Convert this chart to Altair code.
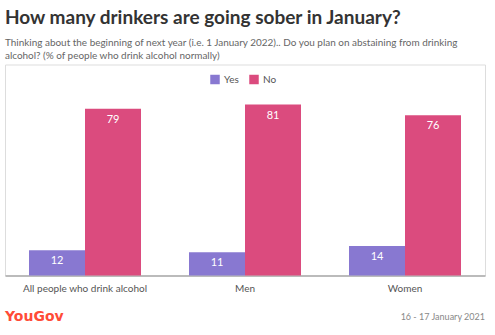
import altair as alt
import pandas as pd

categories = ["All people who drink alcohol", "Men", "Women"]
yes_values = [12, 11, 14]
no_values = [79, 81, 76]
series = ["Yes", "No"]
colors = ["#8878d1", "#db4b7e"]

rows = []
for c, y, n in zip(categories, yes_values, no_values):
    rows.append({"group": c, "answer": "Yes", "value": y})
    rows.append({"group": c, "answer": "No", "value": n})
df = pd.DataFrame(rows)

FONT = "Lato"

x = alt.X("group:N", sort=categories, title=None,
          scale=alt.Scale(paddingInner=0.3, paddingOuter=0.15),
          axis=alt.Axis(labelAngle=0, ticks=False, domainColor="#aaaaaa", domainWidth=1.5,
                        labelFont=FONT, labelFontSize=10, labelColor="#555555",
                        labelPadding=8))
y = alt.Y("value:Q", scale=alt.Scale(domain=[0, 100]), axis=None)
xo = alt.XOffset("answer:N", sort=series, scale=alt.Scale(paddingInner=0, paddingOuter=0))
color = alt.Color("answer:N", sort=series,
                  scale=alt.Scale(domain=series, range=colors),
                  legend=alt.Legend(title=None, orient="none", legendX=205, legendY=10,
                                    direction="horizontal", symbolType="square",
                                    symbolSize=90, symbolStrokeWidth=0, symbolOpacity=1,
                                    labelFont=FONT, labelFontSize=10, labelColor="#555555",
                                    columnPadding=10))

bars = alt.Chart(df).mark_bar(opacity=1).encode(x=x, y=y, xOffset=xo, color=color)
labels = alt.Chart(df).mark_text(baseline="middle", dy=11, color="white",
                                 font=FONT, fontSize=11).encode(
    x=x, y=y, xOffset=xo, text="value:Q")

title_df = pd.DataFrame({"t": ["How many drinkers are going sober in January?"]})
title = alt.Chart(title_df).mark_text(align="left", baseline="alphabetic", font=FONT,
                                      fontSize=19, fontWeight="bold", color="#333333").encode(
    x=alt.value(0), y=alt.value(-41), text="t:N")

sub_df = pd.DataFrame({"t": [
    "Thinking about the beginning of next year (i.e. 1 January 2022).. Do you plan on abstaining from drinking",
    "alcohol? (% of people who drink alcohol normally)"], "yy": [-18.5, -5.5]})
sub = alt.Chart(sub_df).mark_text(align="left", baseline="alphabetic", font=FONT,
                                  fontSize=9.95, color="#666666").encode(
    x=alt.value(0), y=alt.Y("yy:Q", scale=None), text="t:N")

logo_df = pd.DataFrame({"t": ["YouGov"]})
logo = alt.Chart(logo_df).mark_text(align="left", baseline="alphabetic", font="DejaVu Sans",
                                    fontSize=14, fontWeight="bold", color="#ff4b37").encode(
    x=alt.value(0), y=alt.value(256.5), text="t:N")

date_df = pd.DataFrame({"t": ["16 - 17 January 2021"]})
date = alt.Chart(date_df).mark_text(align="right", baseline="alphabetic", font=FONT,
                                    fontSize=9, color="#888888").encode(
    x=alt.value(480), y=alt.value(255.5), text="t:N")

chart = alt.layer(bars, labels, title, sub, logo, date).resolve_scale(y="independent").properties(
    width=480, height=211,
    autosize=alt.AutoSizeParams(type="none"),
    padding={"left": 5, "top": 64.5, "right": 10, "bottom": 59.5},
).configure_view(stroke=None).configure(background="white")

chart.save("out.html", embed_options={"renderer": "svg", "actions": False})
